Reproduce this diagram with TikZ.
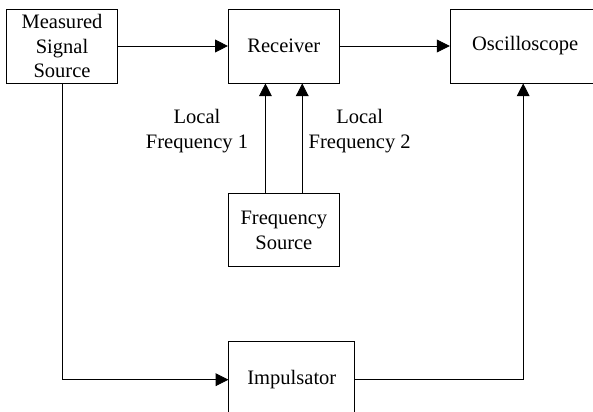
\documentclass[tikz,border=0pt]{standalone}
\usepackage{fontspec}
\setmainfont{Liberation Serif}
\usetikzlibrary{arrows.meta,positioning}

\begin{document}
\begin{tikzpicture}[node distance=27.5mm, >={Triangle[length=3.2mm,width=3.2mm]}, line width=0.6pt, font=\fontsize{14.6}{17.6}\selectfont]
\tikzstyle{blk}=[rectangle, draw, align=center, minimum width=27.75mm, minimum height=18.5mm, inner sep=0pt]
\tikzstyle{lbl}=[align=center, inner sep=0pt]
\clip (0,0) rectangle (148.25mm,-103mm);
\node[blk] (src) at (15.5mm,-11.5mm) {Measured\\ Signal\\ Source};
\node[blk, right=of src] (rx) {Receiver};
\node[blk, right=of rx, minimum width=37.5mm] (osc) {Oscilloscope};
\node[blk, below=of rx, minimum height=18.25mm] (fsrc) {Frequency\\ Source};
\node[blk, below=18.5mm of fsrc, xshift=2mm, minimum width=31.5mm, minimum height=19mm] (imp) {Impulsator};
\draw[->] (src) -- (rx);
\draw[->] (rx) -- (osc);
\draw[->] ([xshift=-4.6mm]fsrc.north) -- node[lbl, pos=0.57, left=4.25mm] {Local\\ Frequency 1} ([xshift=-4.6mm]rx.south);
\draw[->] ([xshift=4.6mm]fsrc.north) -- node[lbl, pos=0.57, right=1.5mm] {Local\\ Frequency 2} ([xshift=4.6mm]rx.south);
\draw[->] (src) |- (imp);
\draw[->] (imp) -| ([xshift=-0.5mm]osc.south);
\end{tikzpicture}
\end{document}
